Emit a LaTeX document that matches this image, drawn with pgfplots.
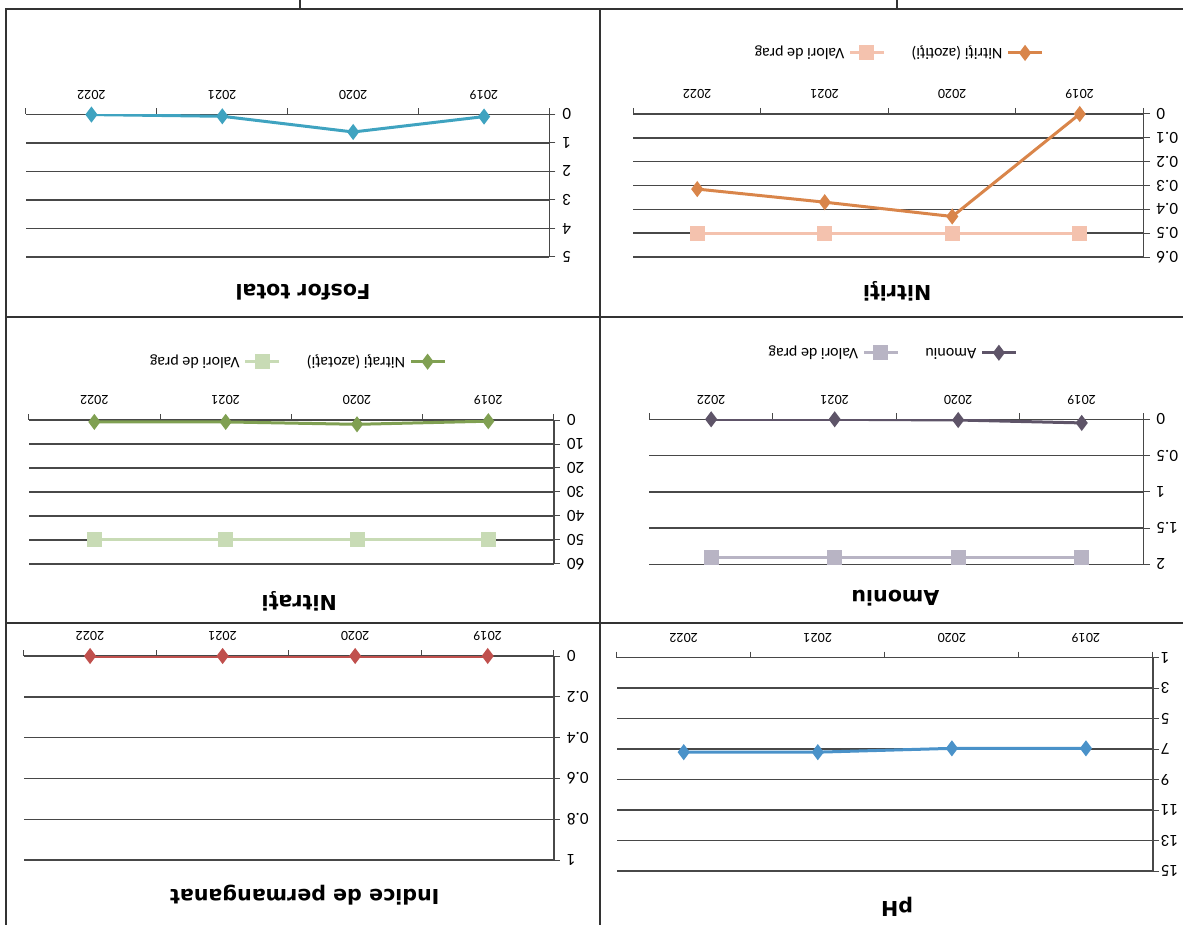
\documentclass[border=0pt]{standalone}
\usepackage{fontspec}
\setmainfont{Carlito}
\newfontfamily\titlefont{DejaVu Sans}
\usepackage{pgfplots}
\pgfplotsset{compat=1.18}
\definecolor{nitrit}{HTML}{D9854A}
\definecolor{nitritprag}{HTML}{F4C2AE}
\definecolor{amon}{HTML}{5E5468}
\definecolor{amonprag}{HTML}{B8B4C4}
\definecolor{nitrat}{HTML}{80A052}
\definecolor{nitratprag}{HTML}{C8DBB5}
\definecolor{fosfor}{HTML}{3FA3C0}
\definecolor{perman}{HTML}{C0504D}
\definecolor{phcol}{HTML}{4A92C9}
\definecolor{gridc}{HTML}{484848}
\pgfplotsset{
  panel/.style={
    scale only axis, anchor=south west,
    xmin=-0.5, xmax=3.5, xtick={0,1,2,3}, xticklabels={2019,2020,2021,2022},
    minor xtick={-0.5,0.5,1.5,2.5,3.5},
    axis x line*=bottom, axis y line*=left,
    ymajorgrids, grid style={gridc, line width=0.7pt},
    axis line style={-, gridc, line width=0.7pt},
    tick align=outside, major tick length=3pt, minor tick length=3pt,
    major x tick style={draw=none}, minor x tick style={gridc, line width=0.5pt},
    ytick style={gridc, line width=0.5pt},
    x tick label style={font=\fontsize{7}{8}\selectfont, yshift=-1pt},
    y tick label style={font=\fontsize{8.5}{9.5}\selectfont},
    /pgf/number format/assume math mode=true,
    title style={font=\titlefont\bfseries\fontsize{10.3}{12}\selectfont, anchor=center},
    legend style={draw=none, fill=none, font=\fontsize{8}{9}\selectfont, anchor=center,
      legend columns=2, /tikz/every even column/.append style={column sep=11pt}},
    legend cell align=left,
    every axis plot/.append style={line width=1.5pt, mark size=2.8pt},
  }
}
\begin{document}
\begin{tikzpicture}[rotate=180, transform shape]
\useasboundingbox (0,0) rectangle (591.5pt,462.5pt);
\draw[black!80, line width=0.8pt] (0,4.5pt) -- (588.5pt,4.5pt) -- (588.5pt,462.5pt);
\draw[black!80, line width=0.8pt] (291.5pt,4.5pt) -- (291.5pt,462.5pt);
\draw[black!80, line width=0.8pt] (0,158.5pt) -- (588.5pt,158.5pt);
\draw[black!80, line width=0.8pt] (0,311.5pt) -- (588.5pt,311.5pt);
\draw[black!80, line width=0.8pt] (143pt,0) -- (143pt,4.5pt);
\draw[black!80, line width=0.8pt] (441.5pt,0) -- (441.5pt,4.5pt);

% Nitriti
\begin{axis}[panel, at={(19.75pt,57pt)}, width=255pt, height=71.5pt,
  ymin=0, ymax=0.6, ytick={0,0.1,0.2,0.3,0.4,0.5,0.6},
  title={Nitriţi}, title style={at={(0.483,1.154)}},
  legend style={at={(0.483,-0.427)}}]
\addplot[color=nitrit, mark=diamond*] coordinates {(0,0) (1,0.43) (2,0.37) (3,0.315)};
\addlegendentry{Nitriţi (azotiţi)}
\addplot[color=nitritprag, mark=square*, mark size=3pt] coordinates {(0,0.5) (1,0.5) (2,0.5) (3,0.5)};
\addlegendentry{Valori de prag}
\end{axis}

% Fosfor total
\begin{axis}[panel, at={(316.75pt,57.15pt)}, width=261.75pt, height=71.35pt,
  ymin=0, ymax=5, ytick={0,1,2,3,4,5},
  title={Fosfor total}, title style={at={(0.471,1.161)}}]
\addplot[color=fosfor, mark=diamond*] coordinates {(0,0.08) (1,0.62) (2,0.07) (3,0.01)};
\end{axis}

% Amoniu
\begin{axis}[panel, at={(19.75pt,209.65pt)}, width=247.05pt, height=72.5pt,
  ymin=0, ymax=2, ytick={0,0.5,1,1.5,2},
  title={Amoniu}, title style={at={(0.502,1.15)}},
  legend style={at={(0.511,-0.459)}}]
\addplot[color=amon, mark=diamond*] coordinates {(0,0.05) (1,0.01) (2,0) (3,0)};
\addlegendentry{Amoniu}
\addplot[color=amonprag, mark=square*, mark size=3pt] coordinates {(0,1.9) (1,1.9) (2,1.9) (3,1.9)};
\addlegendentry{Valori de prag}
\end{axis}

% Nitrati
\begin{axis}[panel, at={(314.5pt,210pt)}, width=262.65pt, height=72pt,
  ymin=0, ymax=60, ytick={0,10,20,30,40,50,60},
  title={Nitraţi}, title style={at={(0.485,1.173)}},
  legend style={at={(0.491,-0.405)}}]
\addplot[color=nitrat, mark=diamond*] coordinates {(0,0.5) (1,1.8) (2,0.8) (3,0.8)};
\addlegendentry{Nitraţi (azotaţi)}
\addplot[color=nitratprag, mark=square*, mark size=3pt] coordinates {(0,50) (1,50) (2,50) (3,50)};
\addlegendentry{Valori de prag}
\end{axis}

% Indice de permanganat
\begin{axis}[panel, at={(314.5pt,328pt)}, width=265.1pt, height=102pt,
  ymin=0, ymax=1, ytick={0,0.2,0.4,0.6,0.8,1},
  title={Indice de permanganat}, title style={at={(0.47,1.113)}}]
\addplot[color=perman, mark=diamond*] coordinates {(0,0) (1,0) (2,0) (3,0)};
\end{axis}

% pH
\begin{axis}[panel, at={(15pt,328.85pt)}, width=268.15pt, height=106.65pt,
  ymin=1, ymax=15, ytick={1,3,5,7,9,11,13,15},
  y tick label style={xshift=2.5pt},
  title={pH}, title style={at={(0.477,1.112)}}]
\addplot[color=phcol, mark=diamond*] coordinates {(0,6.95) (1,6.95) (2,7.2) (3,7.2)};
\end{axis}
\end{tikzpicture}
\end{document}
